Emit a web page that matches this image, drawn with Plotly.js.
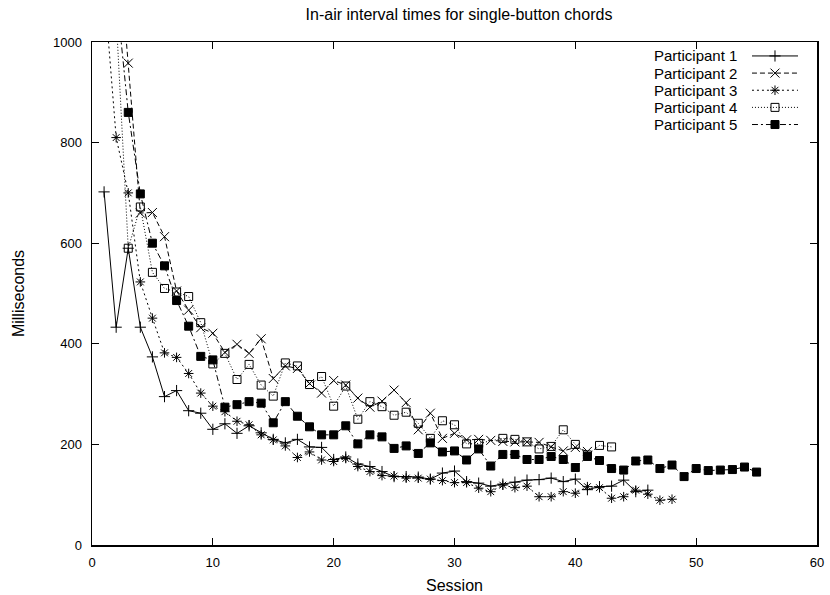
<!DOCTYPE html>
<html>
<head>
<meta charset="utf-8">
<script src="https://cdn.plot.ly/plotly-3.0.1.min.js"></script>
<style>
html,body{margin:0;padding:0;background:#fff;}
#chart{width:830px;height:595px;}
</style>
</head>
<body>
<div id="chart"></div>
<script>
// Sessions for each participant
var sessionsP1 = [1,2,3,4,5,6,7,8,9,10,11,12,13,14,15,16,17,18,19,20,21,22,23,24,25,26,27,28,29,30,31,32,33,34,35,36,37,38,39,40,41,42,43,44,45,46];
var msP1 = [702,433,590,433,374,295,307,267,262,230,241,222,237,223,210,203,210,195,194,170,175,161,156,146,136,136,135,131,143,147,126,123,117,121,125,129,130,133,126,131,110,116,117,129,106,109];

var sessionsP2 = [2,3,4,5,6,7,8,9,10,11,12,13,14,15,16,17,18,19,20,21,22,23,24,25,26,27,28,29,30,31,32,33,34,35,36,37,38,39,40,41];
var msP2 = [1250,958,660,661,613,505,467,432,421,383,399,381,410,331,356,351,321,302,327,318,292,274,286,308,283,229,262,212,222,209,210,208,206,205,205,204,195,187,194,186];

var sessionsP3 = [1,2,3,4,5,6,7,8,9,10,11,12,13,14,15,16,17,18,19,20,21,22,23,24,25,26,27,28,29,30,31,32,33,34,35,36,37,38,39,40,41,42,43,44,45,46,47,48];
var msP3 = [1110,810,700,523,451,382,373,341,302,276,265,246,239,219,209,197,174,185,169,166,172,156,146,138,137,133,133,131,128,124,124,113,106,119,114,117,96,96,106,103,116,114,93,96,109,101,89,91];

var sessionsP4 = [2,3,4,5,6,7,8,9,10,11,12,13,14,15,16,17,18,19,20,21,22,23,24,25,26,27,28,29,30,31,32,33,34,35,36,37,38,39,40,41,42,43];
var msP4 = [1050,590,672,542,510,503,494,442,360,381,329,359,318,296,362,356,319,335,276,316,250,285,275,258,264,242,212,247,239,201,202,null,212,210,205,191,196,229,200,179,198,195];

var sessionsP5 = [2,3,4,5,6,7,8,9,10,11,12,13,14,15,16,17,18,19,20,21,22,23,24,25,26,27,28,29,30,31,32,33,34,35,36,37,38,39,40,41,42,43,44,45,46,47,48,49,50,51,52,53,54,55];
var msP5 = [1100,860,698,600,555,486,435,375,368,274,279,285,282,243,285,256,235,219,219,237,201,219,215,192,197,182,203,185,187,169,191,157,180,180,170,170,176,170,154,176,168,152,149,167,169,152,159,136,152,148,149,150,155,145];

var seriesNames = ["Participant 1","Participant 2","Participant 3","Participant 4","Participant 5"];
var xTicks = [0,10,20,30,40,50,60];
var yTicks = [0,200,400,600,800,1000];

var FONT = "Liberation Sans, Arial, Helvetica, sans-serif";

// gnuplot-like styles per series (in order)
var styles = [
  {dash: "solid",           symbol: "cross-thin-open", size: 8},
  {dash: "5px,3px",         symbol: "x-thin-open",     size: 9},
  {dash: "2px,3px",         symbol: "asterisk-open",   size: 8},
  {dash: "1px,2px",         symbol: "square-open",     size: 8},
  {dash: "6px,3px,2px,3px", symbol: "square",          size: 8}
];
var xs = [sessionsP1, sessionsP2, sessionsP3, sessionsP4, sessionsP5];
var ys = [msP1, msP2, msP3, msP4, msP5];

var traces = [];
var annotations = [];
for (var i = 0; i < seriesNames.length; i++) {
  var st = styles[i];
  traces.push({
    type: "scatter", mode: "lines+markers", name: seriesNames[i],
    x: xs[i], y: ys[i], connectgaps: true, showlegend: false,
    line: {color: "#000", width: 1, dash: st.dash},
    marker: {symbol: st.symbol, size: st.size, color: "#000", line: {color: "#000", width: 1}}
  });
  // legend key (gnuplot style: text, then sample) drawn in a hidden helper subplot
  var row = i + 1;
  traces.push({
    type: "scatter", mode: "lines", xaxis: "x2", yaxis: "y2", showlegend: false,
    x: [0, 1], y: [row, row], line: {color: "#000", width: 1, dash: st.dash}, hoverinfo: "skip"
  });
  traces.push({
    type: "scatter", mode: "markers", xaxis: "x2", yaxis: "y2", showlegend: false,
    x: [0.5], y: [row],
    marker: {symbol: st.symbol, size: st.size, color: "#000", line: {color: "#000", width: 1}}, hoverinfo: "skip"
  });
  annotations.push({
    xref: "x2", yref: "y2", x: 0, y: row, xanchor: "right", yanchor: "middle",
    xshift: -13, showarrow: false, text: seriesNames[i],
    font: {family: FONT, size: 15, color: "#000"}
  });
}

var axisCommon = {
  showgrid: false, zeroline: false,
  showline: true, linecolor: "#000", linewidth: 1.5, mirror: "allticks",
  ticks: "inside", ticklen: 7, tickwidth: 1, tickcolor: "#000",
  tickfont: {family: FONT, size: 13, color: "#000"}
};

var layout = {
  width: 830, height: 595,
  margin: {l: 92, r: 13, t: 42, b: 50},
  paper_bgcolor: "#fff", plot_bgcolor: "rgba(0,0,0,0)",
  title: {text: "In-air interval times for single-button chords",
          font: {family: FONT, size: 16, color: "#000"},
          x: 0.553, xref: "container", y: 0.976, yref: "container", yanchor: "middle"},
  xaxis: Object.assign({}, axisCommon, {
    range: [0, 60], tickmode: "array", tickvals: xTicks,
    ticktext: xTicks.map(String), ticklabelstandoff: 5,
    title: {text: "Session", font: {family: FONT, size: 16, color: "#000"}, standoff: 10}
  }),
  yaxis: Object.assign({}, axisCommon, {
    range: [0, 1000], tickmode: "array", tickvals: yTicks,
    ticktext: yTicks.map(String), ticklabelstandoff: 6,
    title: {text: "Milliseconds", font: {family: FONT, size: 16, color: "#000"}, standoff: 24}
  }),
  xaxis2: {domain: [0.9103, 0.9738], range: [0, 1], anchor: "y2", visible: false, fixedrange: true},
  yaxis2: {domain: [0.8189, 0.9893], range: [5.5, 0.5], anchor: "x2", visible: false, fixedrange: true},
  annotations: annotations,
  showlegend: false
};

Plotly.newPlot("chart", traces, layout, {displayModeBar: false, staticPlot: true});
</script>
</body>
</html>
